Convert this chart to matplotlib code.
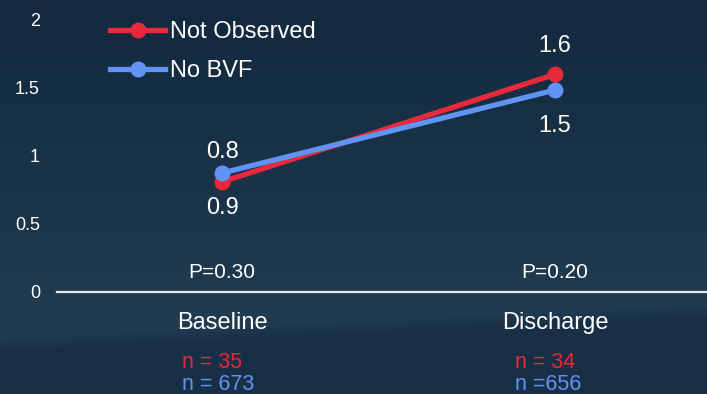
import numpy as np
import matplotlib
matplotlib.use('Agg')
import matplotlib.pyplot as plt
from matplotlib.colors import to_rgb

# data
categories = ['Baseline', 'Discharge']
not_observed = [0.81, 1.60]
no_bvf = [0.875, 1.485]
lbl_above = ['0.8', '1.6']
lbl_below = ['0.9', '1.5']
p_values = ['P=0.30', 'P=0.20']
n_not_observed = ['n = 35', 'n = 34']
n_no_bvf = ['n = 673', 'n =656']
yticks = [0, 0.5, 1, 1.5, 2]
ytick_labels = ['0', '0.5', '1', '1.5', '2']

RED = '#e8293b'
BLUE = '#6193f5'
PX = 72 / 100  # points per pixel

plt.rcParams['font.family'] = ['Liberation Sans', 'DejaVu Sans']

W, H = 707, 394
fig = plt.figure(figsize=(W / 100, H / 100), dpi=100)

# background gradient with a soft darker wedge at the bottom
bg = fig.add_axes([0, 0, 1, 1])
yy, xx = np.mgrid[0:H, 0:W]
top = np.array(to_rgb('#12293e'))
mid = np.array(to_rgb('#203a4f'))
low = np.array(to_rgb('#182f45'))
t = np.clip(yy / 300.0, 0, 1)[..., None]
img = top * (1 - t) + mid * t
edge = 338 - 34 * xx / W
m = np.clip((yy - edge) / 14.0, 0, 1)[..., None]
img = img * (1 - m) + low * m
bg.imshow(img, aspect='auto', extent=[0, W, H, 0])
bg.axis('off')

ax = fig.add_axes([57 / W, (H - 292) / H, (W - 57) / W, 292 / H])
ax.set_facecolor('none')
x = np.arange(len(categories))
ax.set_xlim((57 - 222) / 333, (707 - 222) / 333)
ax.set_ylim(0, 292 / 136)

ax.plot(x, not_observed, color=RED, lw=3.8, marker='o', ms=10.5, label='Not Observed', zorder=3)
ax.plot(x, no_bvf, color=BLUE, lw=3.8, marker='o', ms=10.5, label='No BVF', zorder=4)

above_off = [15.5, 22]   # px from upper point to text baseline
below_off = [32.5, 42]   # px from lower point to text baseline
for i in x:
    ax.annotate(lbl_above[i], xy=(i, max(not_observed[i], no_bvf[i])), xytext=(0, above_off[i] * PX),
                textcoords='offset points', ha='center', va='baseline',
                fontsize=17, color='white')
    ax.annotate(lbl_below[i], xy=(i, min(not_observed[i], no_bvf[i])), xytext=(0, -below_off[i] * PX),
                textcoords='offset points', ha='center', va='baseline',
                fontsize=17, color='white')
    ax.annotate(p_values[i], xy=(i, 0), xytext=(0, 20 * PX), textcoords='offset points',
                ha='center', va='center', fontsize=15, color='white')
    ax.annotate(categories[i], xy=(i, 0), xytext=(0, -31 * PX), textcoords='offset points',
                ha='center', va='center', fontsize=17, color='white', annotation_clip=False)
    ax.annotate(n_not_observed[i], xy=(i, 0), xytext=(-40 * PX, -70 * PX), textcoords='offset points',
                ha='left', va='center', fontsize=15.5, color=RED, annotation_clip=False)
    ax.annotate(n_no_bvf[i], xy=(i, 0), xytext=(-40 * PX, -93 * PX), textcoords='offset points',
                ha='left', va='center', fontsize=15.5, color=BLUE, annotation_clip=False)

ax.set_xticks([])
ax.set_yticks(yticks)
ax.set_yticklabels(ytick_labels, color='white', fontsize=13)
ax.tick_params(axis='y', length=0, pad=17 * PX)
for s in ['top', 'right', 'left']:
    ax.spines[s].set_visible(False)
ax.spines['bottom'].set_color('#e8e8e8')
ax.spines['bottom'].set_linewidth(1.6)

leg = ax.legend(loc='upper left', bbox_to_anchor=(110 / W, 1 - 21 / H), bbox_transform=fig.transFigure,
                frameon=False, fontsize=17, handlelength=2.35, handletextpad=0.2,
                labelspacing=0.72, borderaxespad=0, borderpad=0)
for t_ in leg.get_texts():
    t_.set_color('white')

fig.savefig('out.png', dpi=100)
